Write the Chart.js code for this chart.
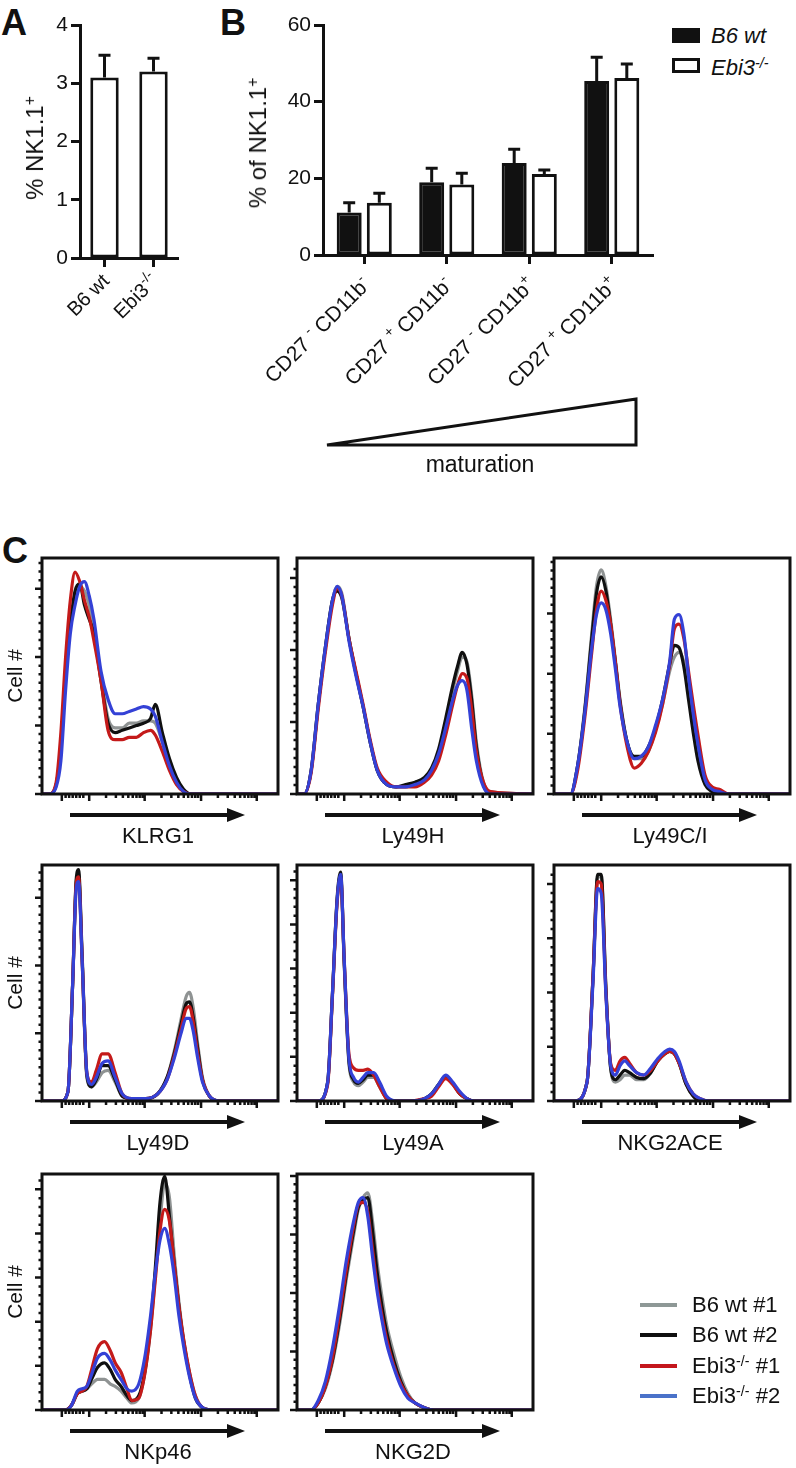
<!DOCTYPE html>
<html>
<head>
<meta charset="utf-8">
<title>NK cell subsets, B6 wt vs Ebi3-/-</title>
<style>
  body { margin: 0; background: #fff; }
  #fig { position: relative; width: 796px; height: 1468px; overflow: hidden;
         font-family: "Liberation Sans", Arial, sans-serif; color: #111; }
  #fig canvas, #fig .t, #fig svg { position: absolute; }
  .t { white-space: nowrap; line-height: 1; }
  .panel { font-weight: bold; font-size: 36px; }
  .rot { transform: translate(-50%, -50%) rotate(-90deg); font-size: 21px; }
  .ytitle { font-size: 24px; }
  .ctr { transform: translate(-50%, -50%); font-size: 22px; }
  sup { font-size: 0.65em; vertical-align: 0.5em; line-height: 0; }
</style>
</head>
<body>
<div id="fig">
  <div class="t panel" style="left:1px; top:5px">A</div>
  <div class="t panel" style="left:220px; top:5px">B</div>
  <div class="t panel" style="left:2px; top:533px">C</div>

  <canvas id="chartA" width="190" height="330" style="left:0; top:0"></canvas>
  <canvas id="chartB" width="470" height="400" style="left:200px; top:0"></canvas>

  <div class="t rot ytitle" style="left:35px; top:148px">% NK1.1<sup>+</sup></div>
  <div class="t rot ytitle" style="left:258px; top:143px">% of NK1.1<sup>+</sup></div>

  <!-- legend B -->
  <div class="t" style="left:672px; top:28px; width:28px; height:15px; background:#111"></div>
  <div class="t" style="left:672px; top:58px; width:22px; height:9px; border:3px solid #111; background:#fff"></div>
  <div class="t" style="left:711px; top:25px; font-size:22px; font-style:italic">B6 wt</div>
  <div class="t" style="left:711px; top:57px; font-size:22px; font-style:italic">Ebi3<sup>-/-</sup></div>

  <svg id="deco" width="796" height="1468" style="left:0; top:0">
    <polygon points="327,445 636,445 636,399" fill="none" stroke="#111" stroke-width="3"/>
  </svg>
  <div class="t ctr" style="left:480px; top:464px; font-size:23px">maturation</div>
</div>

<script src="https://cdn.jsdelivr.net/npm/chart.js@4.4.1/dist/chart.umd.min.js"></script>
<script>
// ---- panel A: % NK1.1+ ----
const aGroups = ['B6 wt', 'Ebi3^{-/-}'];
const aMean = [3.1, 3.2];
const aSem = [0.38, 0.23];

// ---- panel B: maturation subsets ----
const bSubsets = ['CD27 ^{-} CD11b^{-}', 'CD27 ^{+} CD11b^{-}', 'CD27 ^{-} CD11b^{+}', 'CD27 ^{+} CD11b^{+}'];
const bWtMean = [11.1, 19.0, 24.0, 45.4];
const bWtSem = [2.5, 3.6, 3.6, 6.2];
const bEbiMean = [13.6, 18.4, 21.1, 46.2];
const bEbiSem = [2.5, 2.9, 1.1, 3.6];

// ---- panel C: histograms (x = % of axis, y = % of max) ----
const facsNames = ['KLRG1', 'Ly49H', 'Ly49C/I', 'Ly49D', 'Ly49A', 'NKG2ACE', 'NKp46', 'NKG2D'];
const seriesNames = ['B6 wt #1', 'B6 wt #2', 'Ebi3^{-/-} #1', 'Ebi3^{-/-} #2'];

const klrg1X     = [0, 3, 6, 8, 10, 12, 14, 16, 18, 20, 22, 25, 28, 31, 34, 37, 40, 43, 46, 48, 51, 54, 57, 60, 63, 66, 100];
const klrg1Grey  = [0, 0, 4, 20, 50, 72, 83, 88, 86, 80, 70, 50, 32, 28, 28, 30, 30, 31, 31, 30, 22, 12, 5, 1, 0, 0, 0];
const klrg1Black = [0, 0, 4, 20, 50, 72, 86, 89, 80, 74, 68, 48, 30, 26, 27, 28, 29, 30, 32, 38, 26, 15, 7, 2, 0, 0, 0];
const klrg1Red   = [0, 0, 5, 26, 58, 82, 94, 90, 82, 75, 65, 48, 27, 23, 23, 24, 24, 26, 27, 25, 18, 10, 4, 1, 0, 0, 0];
const klrg1Blue  = [0, 0, 3, 14, 44, 68, 80, 88, 90, 84, 74, 52, 40, 34, 34, 35, 36, 37, 36, 33, 22, 12, 5, 1, 0, 0, 0];

const ly49hX     = [0, 3, 6, 9, 12, 15, 17, 19, 22, 25, 28, 31, 34, 38, 42, 46, 50, 54, 57, 60, 63, 66, 68, 70, 72, 74, 76, 79, 82, 100];
const ly49hGrey  = [0, 0, 10, 38, 62, 82, 88, 85, 66, 51, 37, 22, 10, 4, 3, 3, 4, 6, 10, 17, 30, 44, 52, 58, 56, 42, 22, 5, 1, 0];
const ly49hBlack = [0, 0, 10, 38, 62, 82, 86, 83, 66, 51, 37, 22, 10, 4, 3, 4, 5, 7, 11, 19, 32, 46, 54, 60, 55, 40, 20, 4, 0, 0];
const ly49hRed   = [0, 0, 9, 36, 60, 80, 87, 84, 66, 52, 38, 23, 11, 5, 3, 3, 3, 5, 8, 14, 25, 38, 46, 51, 49, 36, 18, 5, 1, 0];
const ly49hBlue  = [0, 0, 10, 38, 62, 82, 88, 84, 65, 50, 37, 22, 10, 4, 3, 3, 4, 6, 10, 17, 28, 40, 46, 48, 44, 28, 14, 3, 0, 0];

const ly49ciX     = [0, 4, 7, 10, 13, 16, 18, 20, 22, 24, 26, 28, 31, 34, 37, 40, 43, 46, 49, 51, 53, 55, 57, 59, 61, 64, 67, 70, 74, 100];
const ly49ciGrey  = [0, 0, 0, 12, 36, 68, 88, 95, 88, 74, 57, 40, 22, 15, 15, 18, 27, 38, 52, 58, 60, 56, 43, 29, 17, 5, 2, 0, 0, 0];
const ly49ciBlack = [0, 0, 0, 12, 35, 66, 85, 92, 86, 72, 56, 39, 22, 16, 16, 20, 28, 40, 55, 63, 62, 54, 40, 26, 14, 4, 1, 0, 0, 0];
const ly49ciRed   = [0, 0, 0, 10, 32, 60, 78, 86, 82, 72, 56, 38, 20, 11, 13, 18, 26, 38, 55, 70, 72, 66, 52, 38, 25, 8, 3, 2, 0, 0];
const ly49ciBlue  = [0, 0, 0, 12, 34, 62, 76, 81, 78, 68, 53, 37, 22, 15, 16, 20, 29, 40, 56, 74, 76, 68, 50, 34, 21, 6, 2, 1, 0, 0];

const ly49dX     = [0, 8, 11, 13, 14.5, 15.5, 17, 19, 21, 23, 25.5, 28, 31, 34, 38, 44, 49, 53, 56, 59, 61, 62.5, 64, 66, 68, 71, 75, 100];
const ly49dGrey  = [0, 0, 4, 50, 93, 96, 60, 10, 6, 8, 12, 13, 8, 2, 1, 1, 3, 10, 21, 35, 44, 46, 40, 24, 10, 2, 0, 0];
const ly49dBlack = [0, 0, 4, 50, 94, 98, 62, 11, 6, 9, 15, 15, 9, 2, 1, 1, 3, 10, 20, 33, 41, 42, 36, 22, 9, 2, 0, 0];
const ly49dRed   = [0, 0, 4, 50, 92, 95, 60, 12, 8, 13, 20, 20, 12, 3, 1, 1, 3, 9, 19, 31, 39, 40, 34, 20, 9, 2, 0, 0];
const ly49dBlue  = [0, 0, 4, 50, 90, 93, 60, 12, 7, 10, 16, 17, 10, 3, 1, 1, 3, 9, 18, 29, 35, 35, 30, 18, 8, 2, 0, 0];

const ly49aX     = [0, 9, 13, 15, 17, 18.5, 20, 22, 24, 26, 28, 30, 32.5, 35, 38, 42, 48, 54, 57, 60, 63, 66, 69, 72, 75, 100];
const ly49aGrey  = [0, 0, 8, 45, 85, 95, 58, 16, 8, 6.5, 8, 10, 10, 6, 1, 0, 0, 1, 3, 7, 10, 7, 3, 1, 0, 0];
const ly49aBlack = [0, 0, 8, 45, 86, 97, 59, 17, 9, 7.5, 9, 11, 11, 7, 1, 0, 0, 1, 3, 7, 10.5, 7.5, 3, 1, 0, 0];
const ly49aRed   = [0, 0, 7, 44, 84, 95, 60, 20, 14, 13, 13, 13.5, 11, 6, 1, 0, 0, 1, 2, 6, 9.5, 7, 3, 1, 0, 0];
const ly49aBlue  = [0, 0, 8, 45, 85, 96, 60, 18, 10, 8, 10, 12, 12, 8, 2, 0, 0, 1, 3, 7, 11, 8, 4, 1, 0, 0];

const nkg2aceX     = [0, 9, 14, 16.5, 18.5, 20, 22, 24, 26, 28, 30, 32, 35, 38, 41, 44, 47, 49, 51, 53, 56, 59, 62, 66, 100];
const nkg2aceGrey  = [0, 0, 8, 52, 95, 95, 47, 14, 8, 9, 11, 11, 9, 9, 12, 17, 20, 21, 20, 16, 7, 2, 0, 0, 0];
const nkg2aceBlack = [0, 0, 8, 52, 96, 96, 48, 14, 9, 11, 13, 12, 10, 9.5, 12, 17, 20, 21, 20, 16, 7, 2, 0, 0, 0];
const nkg2aceRed   = [0, 0, 8, 52, 93, 92, 46, 16, 13, 17, 18.5, 16, 12, 11, 13, 17, 20, 21, 20, 16, 8, 3, 1, 0, 0];
const nkg2aceBlue  = [0, 0, 8, 50, 90, 88, 45, 15, 11, 15, 17, 15, 12, 11, 14, 18, 21, 22, 21, 17, 8, 3, 1, 0, 0];

const nkp46X     = [0, 10, 12.5, 15, 17, 19, 21, 23.5, 26.5, 29, 31, 33.5, 36, 38, 41, 43.5, 46, 48, 50, 52, 54, 56, 58, 60, 62.5, 65, 68, 72, 100];
const nkp46Grey  = [0, 0, 2, 7, 8, 9, 11, 13, 13, 11, 10, 8, 5, 3, 5, 15, 34, 57, 80, 96, 90, 66, 46, 30, 16, 6, 1, 0, 0];
const nkp46Black = [0, 0, 2, 7, 8, 9, 13, 18, 20, 17, 13, 10, 6, 4, 6, 16, 36, 60, 88, 99, 82, 62, 44, 29, 15, 5, 1, 0, 0];
const nkp46Red   = [0, 0, 2, 7, 8, 10, 17, 26, 29, 25, 20, 16, 9, 4, 5, 15, 34, 55, 76, 85, 80, 62, 44, 30, 16, 6, 1, 0, 0];
const nkp46Blue  = [0, 0, 2, 8, 9, 10, 15, 22, 24, 21, 17, 13, 9, 8, 11, 22, 40, 58, 72, 77, 70, 57, 40, 27, 14, 5, 1, 0, 0];

const nkg2dX     = [0, 6, 9, 12, 15, 18, 21, 24, 26, 28, 30, 32, 34, 36, 38, 41, 44, 47, 50, 54, 58, 62, 100];
const nkg2dGrey  = [0, 0, 3, 9, 20, 36, 56, 74, 85, 90, 92, 80, 62, 48, 36, 24, 14, 7, 3, 1, 0, 0, 0];
const nkg2dBlack = [0, 0, 3, 10, 21, 38, 58, 76, 86, 89, 90, 76, 58, 44, 33, 21, 12, 6, 3, 1, 0, 0, 0];
const nkg2dRed   = [0, 0, 3, 10, 22, 40, 60, 78, 87, 88, 84, 68, 52, 40, 30, 19, 11, 6, 3, 1, 0, 0, 0];
const nkg2dBlue  = [0, 0, 4, 12, 26, 44, 64, 80, 88, 90, 82, 65, 50, 38, 28, 18, 10, 5, 3, 1, 0, 0, 0];

// layout / style (kept apart from the data)
const lineColors = ['#8f9393', '#101010', '#c41a1a', '#3441d6'];
const legendColors = ['#8e9896', '#101010', '#c4161c', '#4a72c9'];
const drawOrder = [3, 2, 1, 0];   // blue on top
const FW = 236, FH = 236;
const facsLayout = [
  { left: 42, top: 558, yStep: 29 },
  { left: 297, top: 558, yStep: 30.5 },
  { left: 554, top: 558, yStep: 25.5 },
  { left: 42, top: 865, yStep: 28.7 },
  { left: 297, top: 865, yStep: 18.7 },
  { left: 554, top: 865, yStep: 23 },
  { left: 42, top: 1174, yStep: 18.7 },
  { left: 297, top: 1174, yStep: 24.8 }
];
const facsData = [
  [klrg1X, klrg1Grey, klrg1Black, klrg1Red, klrg1Blue],
  [ly49hX, ly49hGrey, ly49hBlack, ly49hRed, ly49hBlue],
  [ly49ciX, ly49ciGrey, ly49ciBlack, ly49ciRed, ly49ciBlue],
  [ly49dX, ly49dGrey, ly49dBlack, ly49dRed, ly49dBlue],
  [ly49aX, ly49aGrey, ly49aBlack, ly49aRed, ly49aBlue],
  [nkg2aceX, nkg2aceGrey, nkg2aceBlack, nkg2aceRed, nkg2aceBlue],
  [nkp46X, nkp46Grey, nkp46Black, nkp46Red, nkp46Blue],
  [nkg2dX, nkg2dGrey, nkg2dBlack, nkg2dRed, nkg2dBlue]
];

const FONT = '"Liberation Sans", Arial, sans-serif';
Chart.defaults.font.family = FONT;
Chart.defaults.color = '#111';

// "Ebi3^{-/-}" -> html with <sup>
function toHtml(s) { return s.replace(/\^\{([^}]*)\}/g, '<sup>$1</sup>'); }

// draw text with superscripts, right aligned at the origin
function drawRich(ctx, s, size) {
  const parts = [];
  const re = /\^\{([^}]*)\}/g;
  let last = 0, m;
  while ((m = re.exec(s))) {
    if (m.index > last) parts.push({ t: s.slice(last, m.index), sup: false });
    parts.push({ t: m[1], sup: true });
    last = re.lastIndex;
  }
  if (last < s.length) parts.push({ t: s.slice(last), sup: false });
  const fontOf = p => (p.sup ? Math.round(size * 0.68) : size) + 'px ' + FONT;
  let w = 0;
  parts.forEach(p => { ctx.font = fontOf(p); p.w = ctx.measureText(p.t).width; w += p.w; });
  let x = -w;
  parts.forEach(p => { ctx.font = fontOf(p); ctx.fillText(p.t, x, p.sup ? -size * 0.42 : 0); x += p.w; });
}

// upper error whiskers
const errorBars = {
  id: 'errorBars',
  afterDatasetsDraw(chart) {
    const ctx = chart.ctx, y = chart.scales.y;
    chart.data.datasets.forEach((ds, i) => {
      if (!ds.errors) return;
      chart.getDatasetMeta(i).data.forEach((bar, j) => {
        const top = y.getPixelForValue(ds.data[j] + ds.errors[j]);
        ctx.save();
        ctx.strokeStyle = '#111';
        ctx.lineWidth = 3;
        ctx.beginPath();
        ctx.moveTo(bar.x, bar.y);
        ctx.lineTo(bar.x, top);
        ctx.moveTo(bar.x - 6, top);
        ctx.lineTo(bar.x + 6, top);
        ctx.stroke();
        ctx.restore();
      });
    });
  }
};

// 45 degree category labels
const slantLabels = {
  id: 'slantLabels',
  afterDraw(chart, args, o) {
    const { ctx, scales: { x }, chartArea } = chart;
    ctx.save();
    ctx.fillStyle = '#111';
    ctx.textAlign = 'left';
    ctx.textBaseline = 'alphabetic';
    chart.data.labels.forEach((lab, i) => {
      ctx.save();
      ctx.translate(x.getPixelForTick(i) + o.dx, chartArea.bottom + o.dy);
      ctx.rotate(-Math.PI / 4);
      drawRich(ctx, lab, o.size);
      ctx.restore();
    });
    ctx.restore();
  }
};

// box + tick marks of the flow histograms
const facsFrame = {
  id: 'facsFrame',
  afterDraw(chart, args, o) {
    const { ctx, chartArea: a, scales: { x, y } } = chart;
    ctx.save();
    ctx.strokeStyle = '#111';
    ctx.lineWidth = 3;
    ctx.strokeRect(a.left, a.top, a.right - a.left, a.bottom - a.top);
    // x ticks (log-like)
    const xMajor = [8.4, 20, 43.5, 67.4, 91];
    const xMinor = [10, 11.5, 13, 14.5, 16, 17.5];
    [20, 43.5, 67.4].forEach(d => { for (let k = 2; k < 10; k++) xMinor.push(d + 23.7 * Math.log10(k)); });
    ctx.lineWidth = 2.5;
    ctx.beginPath();
    xMajor.forEach(v => { const p = x.getPixelForValue(v); ctx.moveTo(p, a.bottom); ctx.lineTo(p, a.bottom + 7); });
    xMinor.filter(v => v < 99).forEach(v => { const p = x.getPixelForValue(v); ctx.moveTo(p, a.bottom); ctx.lineTo(p, a.bottom + 4); });
    // y ticks
    const stepPx = y.getPixelForValue(0) - y.getPixelForValue(o.yStep);
    const n = Math.max(4, Math.round(stepPx / 8.5));
    for (let v = 0; v <= 100.01; v += o.yStep) {
      const p = y.getPixelForValue(v);
      ctx.moveTo(a.left, p); ctx.lineTo(a.left - 7, p);
      for (let k = 1; k < n; k++) {
        const vm = v + o.yStep * k / n;
        if (vm > 99) break;
        const pm = y.getPixelForValue(vm);
        ctx.moveTo(a.left, pm); ctx.lineTo(a.left - 3.5, pm);
      }
    }
    ctx.stroke();
    ctx.restore();
  }
};

const axisGrid = { display: true, drawOnChartArea: false, offset: false, tickLength: 9, tickWidth: 3, tickColor: '#111' };
const axisBorder = { color: '#111', width: 3 };

// ---- chart A ----
new Chart(document.getElementById('chartA'), {
  type: 'bar',
  data: {
    labels: aGroups,
    datasets: [{
      data: aMean, errors: aSem,
      backgroundColor: '#fff', borderColor: '#111', borderWidth: 3, borderSkipped: false,
      barPercentage: 0.58, categoryPercentage: 1
    }]
  },
  options: {
    responsive: false, animation: false, events: [],
    layout: { padding: { top: 25, right: 12, left: 0, bottom: 0 } },
    plugins: { legend: { display: false }, tooltip: { enabled: false }, slantLabels: { dx: 6, dy: 24, size: 20 } },
    scales: {
      x: { grid: axisGrid, border: axisBorder, ticks: { display: false }, afterFit: s => { s.height = 72; } },
      y: { min: 0, max: 4, ticks: { stepSize: 1, font: { size: 21 }, color: '#111', padding: 3 },
           grid: axisGrid, border: axisBorder, afterFit: s => { s.width = 80; } }
    }
  },
  plugins: [errorBars, slantLabels]
});

// ---- chart B ----
new Chart(document.getElementById('chartB'), {
  type: 'bar',
  data: {
    labels: bSubsets,
    datasets: [
      { label: 'B6 wt', data: bWtMean, errors: bWtSem, backgroundColor: '#111', borderColor: '#111',
        borderWidth: 3, borderSkipped: false, barPercentage: 0.83, categoryPercentage: 0.73 },
      { label: 'Ebi3-/-', data: bEbiMean, errors: bEbiSem, backgroundColor: '#fff', borderColor: '#111',
        borderWidth: 3, borderSkipped: false, barPercentage: 0.83, categoryPercentage: 0.73 }
    ]
  },
  options: {
    responsive: false, animation: false, events: [],
    layout: { padding: { top: 25, right: 17, left: 0, bottom: 0 } },
    plugins: { legend: { display: false }, tooltip: { enabled: false }, slantLabels: { dx: 7, dy: 31, size: 21 } },
    scales: {
      x: { grid: axisGrid, border: axisBorder, ticks: { display: false }, afterFit: s => { s.height = 145; } },
      y: { min: 0, max: 60, ticks: { stepSize: 20, font: { size: 21 }, color: '#111', padding: 3 },
           grid: axisGrid, border: axisBorder, afterFit: s => { s.width = 123; } }
    }
  },
  plugins: [errorBars, slantLabels]
});

// ---- panel C histograms ----
const fig = document.getElementById('fig');
const svg = document.getElementById('deco');
const NS = 'http://www.w3.org/2000/svg';

function addText(cls, x, y, html) {
  const d = document.createElement('div');
  d.className = 't ' + cls;
  d.style.left = x + 'px';
  d.style.top = y + 'px';
  d.innerHTML = html;
  fig.appendChild(d);
  return d;
}

facsLayout.forEach((box, i) => {
  const cv = document.createElement('canvas');
  cv.width = FW + 18;
  cv.height = FH + 16;
  cv.style.left = (box.left - 14) + 'px';
  cv.style.top = (box.top - 4) + 'px';
  fig.insertBefore(cv, svg);

  const cols = facsData[i];
  const datasets = seriesNames.map((name, k) => ({
    label: name,
    data: cols[0].map((xv, j) => ({ x: xv, y: cols[k + 1][j] })),
    borderColor: lineColors[k], borderWidth: 3.2, pointRadius: 0,
    cubicInterpolationMode: 'monotone', fill: false, order: drawOrder[k]
  }));

  new Chart(cv, {
    type: 'line',
    data: { datasets },
    options: {
      responsive: false, animation: false, events: [],
      layout: { padding: { top: 4, right: 4, left: 0, bottom: 0 } },
      plugins: { legend: { display: false }, tooltip: { enabled: false }, facsFrame: { yStep: box.yStep } },
      scales: {
        x: { type: 'linear', min: 0, max: 100, ticks: { display: false }, grid: { display: false },
             border: { display: false }, afterFit: s => { s.height = 12; } },
        y: { type: 'linear', min: 0, max: 100, ticks: { display: false }, grid: { display: false },
             border: { display: false }, afterFit: s => { s.width = 14; } }
      }
    },
    plugins: [facsFrame]
  });

  // axis arrow + marker name
  const bottom = box.top + FH;
  const ay = bottom + 21;
  const line = document.createElementNS(NS, 'line');
  line.setAttribute('x1', box.left + 28); line.setAttribute('x2', box.left + 190);
  line.setAttribute('y1', ay); line.setAttribute('y2', ay);
  line.setAttribute('stroke', '#111'); line.setAttribute('stroke-width', 4);
  svg.appendChild(line);
  const head = document.createElementNS(NS, 'polygon');
  head.setAttribute('points', `${box.left + 185},${ay - 7} ${box.left + 203},${ay} ${box.left + 185},${ay + 7}`);
  head.setAttribute('fill', '#111');
  svg.appendChild(head);
  addText('ctr', box.left + 116, bottom + 42, facsNames[i]);

  if (i % 3 === 0) addText('rot', 14, box.top + FH / 2, 'Cell #');
});

// legend of panel C
const legY = [1305, 1335, 1366, 1396];
seriesNames.forEach((name, k) => {
  const sw = document.createElement('div');
  sw.className = 't';
  sw.style.cssText = `left:640px; top:${legY[k] - 2}px; width:37px; height:4px; background:${legendColors[k]}`;
  fig.appendChild(sw);
  const d = addText('', 692, legY[k] - 11, toHtml(name));
  d.style.fontSize = '22px';
});
</script>
</body>
</html>
